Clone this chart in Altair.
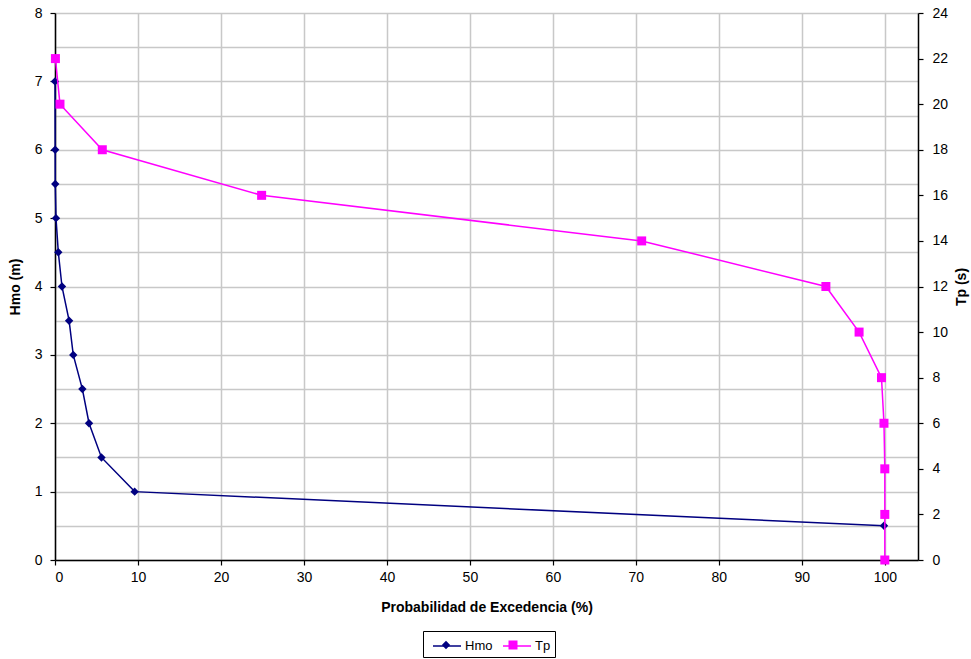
import altair as alt
import pandas as pd

# ---- data ----
series = ["Hmo", "Tp"]
hmo_x = [0.0, 0.02, 0.03, 0.12, 0.4, 0.84, 1.7, 2.2, 3.3, 4.1, 5.6, 9.6, 99.9]
hmo_y = [7, 6, 5.5, 5, 4.5, 4, 3.5, 3, 2.5, 2, 1.5, 1, 0.5]
tp_x = [0.05, 0.6, 5.7, 24.9, 70.7, 92.9, 96.9, 99.6, 99.9, 100, 100, 100]
tp_y = [22, 20, 18, 16, 14, 12, 10, 8, 6, 4, 2, 0]
x_ticks = list(range(0, 101, 10))
hmo_ticks = [i * 0.5 for i in range(17)]
tp_ticks = list(range(0, 25, 2))

FONT = "Liberation Sans"
NAVY = "#000080"
MAGENTA = "#FF00FF"

hmo_df = pd.DataFrame({"x": hmo_x, "v": hmo_y, "i": range(len(hmo_x)),
                       "s1": series[0], "s2": series[0]})
tp_df = pd.DataFrame({"x": tp_x, "v": tp_y, "i": range(len(tp_x)),
                      "s1": series[1], "s2": series[1]})

x_enc = alt.X("x:Q", scale=alt.Scale(domain=[0, 104], nice=False, zero=False),
              axis=alt.Axis(values=x_ticks, title="Probabilidad de Excedencia (%)",
                            grid=True, titlePadding=16, labelPadding=5))

common_legend = dict(title=None, orient="none", legendX=368, legendY=618,
                     direction="horizontal", symbolSize=400, padding=4,
                     symbolOffset=9, labelOffset=7,
                     labelFont=FONT, labelFontSize=13, labelColor="black")

stroke_enc = alt.Stroke("s1:N", scale=alt.Scale(range=[NAVY, MAGENTA]),
                        legend=alt.Legend(symbolType="M-1.4,0L1.4,0", symbolStrokeWidth=1.5,
                                          strokeColor="black", columnPadding=4, **common_legend))
# marker-only legend laid exactly over the line legend (its labels are empty)
pt_legend = alt.Legend(symbolStrokeWidth=0, labelExpr="''", columnPadding=31, **common_legend)
fill_enc = alt.Fill("s2:N", scale=alt.Scale(range=[NAVY, MAGENTA]), legend=pt_legend)
shape_enc = alt.Shape("s2:N", scale=alt.Scale(
    range=["M0,-0.42L0.42,0L0,0.42L-0.42,0Z",
           "M-0.45,-0.45L0.45,-0.45L0.45,0.45L-0.45,0.45Z"]), legend=pt_legend)

y_left = alt.Y("v:Q", scale=alt.Scale(domain=[0, 8], nice=False),
               axis=alt.Axis(orient="left", values=hmo_ticks, title="Hmo (m)",
                             labelExpr="datum.value % 1 == 0 ? format(datum.value, 'd') : ''",
                             tickOpacity={"condition": {"test": "datum.value % 1 != 0", "value": 0}, "value": 1},
                             grid=True, titlePadding=12, labelPadding=8))
y_right = alt.Y("v:Q", scale=alt.Scale(domain=[0, 24], nice=False),
                axis=alt.Axis(orient="right", values=tp_ticks, title="Tp (s)",
                              grid=False, titleAngle=270, titlePadding=21, labelPadding=9))

hmo_line = alt.Chart(hmo_df).mark_line(strokeWidth=1.5).encode(
    x=x_enc, y=y_left, order="i:O", stroke=stroke_enc)
hmo_pts = alt.Chart(hmo_df).mark_point(filled=True, size=400, opacity=1).encode(
    x=x_enc, y=y_left, fill=fill_enc, shape=shape_enc)
tp_line = alt.Chart(tp_df).mark_line(strokeWidth=1.5).encode(
    x=x_enc, y=y_right, order="i:O", stroke=stroke_enc)
tp_pts = alt.Chart(tp_df).mark_point(filled=True, size=400, opacity=1).encode(
    x=x_enc, y=y_right, fill=fill_enc, shape=shape_enc)

chart = alt.layer(alt.layer(hmo_line, hmo_pts), alt.layer(tp_line, tp_pts)).resolve_scale(
    y="independent"
).properties(
    width=863, height=547,
    autosize=alt.AutoSizeParams(type="none"),
    padding={"left": 55, "top": 13, "right": 53, "bottom": 99},
    background="white",
).configure_view(stroke=None).configure_axis(
    labelFont=FONT, labelFontSize=14, labelColor="black",
    titleFont=FONT, titleFontSize=14, titleFontWeight="bold", titleColor="black",
    domainColor="black", domainWidth=1.5, tickColor="black", tickSize=5, tickWidth=1.2,
    gridColor="#c8c8c8", gridWidth=1.5,
)

chart.save("out.html", embed_options={"renderer": "svg", "actions": False})
